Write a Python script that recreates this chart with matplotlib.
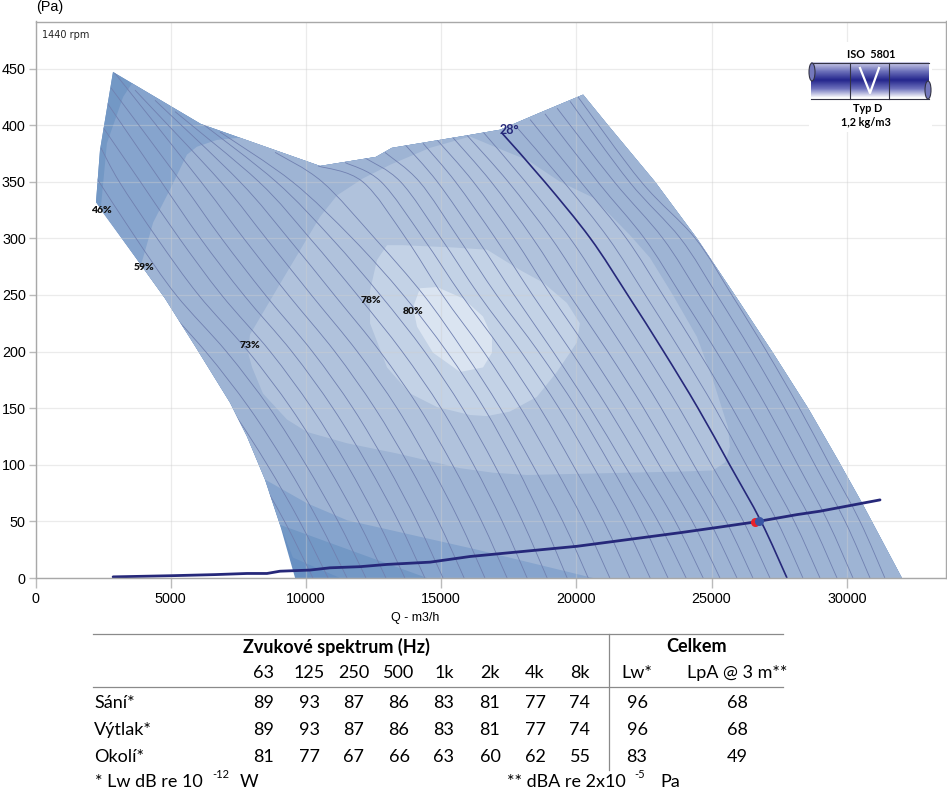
#!/usr/bin/env python
import numpy as np
import matplotlib
matplotlib.use("Agg")
from matplotlib import pyplot as plt
from matplotlib.colors import LinearSegmentedColormap
from matplotlib.patches import Ellipse, PathPatch, Polygon, Rectangle
from matplotlib.path import Path

nan = float("nan")

# envelope of the fan map (Q m3/h, P Pa)
top_corner = [(2866, 447)]
top_edge = [(6120, 401), (10520, 364), (12590, 372), (13180, 380), (15960, 391),
            (17180, 396), (18650, 411), (20250, 427)]
right_edge = [(21170, 400), (22910, 350), (24460, 300), (25860, 250), (27240, 200),
              (28570, 150), (29680, 104), (30570, 66), (32040, 0)]
lower_left_edge = [(9041, 47), (8487, 87), (7821, 125), (7192, 155), (5898, 205),
                   (4789, 247), (3827, 279)]
left_edge = [(2237, 332), (2385, 378)]

# efficiency bands
band_left_1 = [(2420, 328), (2640, 384), (3240, 425), (3570, 437)]
band_left_2 = [(3980, 283), (4350, 314), (4970, 343), (5600, 374), (5970, 381),
               (6710, 387), (7560, 389)]
band_bottom_0 = [(11260, 0), (9520, 18)]
band_bottom_1 = [(14480, 0), (10890, 31)]
band_bottom_2 = [(20620, 0), (16330, 25), (11520, 51), (10040, 66), (8487, 87)]
band_73 = [(7860, 199), (7930, 215), (9120, 263), (10520, 319), (11150, 338), (12110, 353),
           (13110, 365), (14590, 380), (16070, 390), (17070, 380), (18210, 369), (19400, 350),
           (20620, 336), (21980, 303), (22720, 283), (23570, 250), (24460, 213), (25050, 175),
           (25610, 133), (25680, 116), (25500, 102), (25050, 95), (23830, 94), (21870, 93),
           (18180, 91), (16920, 93), (15700, 97), (13370, 110), (11520, 119), (10040, 129),
           (9300, 140), (8410, 163), (8010, 186)]
band_78 = [(13000, 294), (12630, 281), (12370, 254), (12370, 225), (13000, 186), (13850, 163),
           (14850, 151), (16070, 144), (16700, 143), (17540, 147), (18540, 160), (19280, 182),
           (20020, 208), (20130, 225), (19650, 243), (18770, 261), (17920, 272), (16700, 290),
           (15440, 292), (13590, 294)]
band_80 = [(14220, 256), (13960, 239), (14110, 222), (14700, 199), (15700, 182), (16550, 186),
           (16880, 199), (16880, 213), (16550, 231), (15810, 247), (14850, 257)]

# blade angle curves, Q read at fixed pressures, then where each one starts on the envelope
curve_p = [0, 50, 100, 150, 200, 250, 300, 350]
curve_q_0 = [10260, 10820, 11520, 12220, 12960, 13660, 14400, 15070, 15850, 16620, 17440,
             18180, 18920, 19660, 20440, 21240, 21980, 22730, 23390, 24060, 24690, 25310,
             25940, 26530, 27160, 28380, 29010, 29640, 30230, 30860, 31410]
curve_q_50 = [9210, 9770, 10470, 11190, 11940, 12660, 13420, 14100, 14900, 15680, 16500,
              17260, 18010, 18770, 19500, 20280, 21010, 21750, 22410, 23020, 23660, 24290,
              24930, 25540, 26180, 27430, 28060, 28700, 29300, 29940, 30490]
curve_q_100 = [8000, 8570, 9270, 10000, 10770, 11520, 12280, 12990, 13800, 14590, 15420,
               16200, 16970, 17750, 18380, 19150, 19870, 20590, 21250, 21770, 22420, 23060,
               23710, 24340, 25000, 26280, 26920, 27560, 28190, 28820, 29370]
curve_q_150 = [6630, 7210, 7910, 8660, 9450, 10220, 11000, 11740, 12550, 13370, 14200,
               15000, 15790, 16590, 17190, 17940, 18660, 19360, 20010, 20510, 21170, 21820,
               22490, 23140, 23810, 25130, 25770, 26420, 27060, 27700, 28250]
curve_q_200 = [5000, 5590, 6290, 7060, 7870, 8680, 9480, 10240, 11070, 11900, 12740,
               13560, 14390, 15210, 15840, 16570, 17280, 17950, 18600, 19140, 19810, 20470,
               21160, 21830, 22510, 23870, 24520, 25180, 25840, 26490, 27040]
curve_q_250 = [3100, 3700, 4400, 5200, 6030, 6880, 7700, 8500, 9350, 10200, 11050,
               11900, 12750, 13600, 14350, 15050, 15750, 16400, 17050, 17700, 18380, 19050,
               19750, 20450, 21150, 22550, 23200, 23870, 24550, 25200, 25750]
curve_q_300 = [nan, nan, nan, 3720, 4500, 5320, 6100, 6880, 7700, 8530, 9350,
               10150, 10950, 11720, 12550, 13700, 14340, 15000, 15650, 16320, 17010, 17700,
               18390, 19080, 19770, 21190, 21850, 22520, 23200, 23850, 24400]
curve_q_350 = [nan, nan, nan, nan, 3100, 3880, 4650, 5380, 6120, 6850, 7560,
               8260, 8900, 9500, 10600, 12100, 12780, 13500, 14200, 14860, 15530, 16190,
               16850, 17480, 18120, 19530, 20160, 20790, 21400, 21960, 22400]
curve_top_q = [nan, nan, nan, 2270, 2420, 2500, 2640, 2790, 2900, 3680, 4420,
               5160, 6080, 6820, 8860, 10450, 11450, 12190, 12920, 13660, 14330, 14850,
               15400, 15960, 16550, 17730, 18290, 18840, 19290, 19770, 20060]
curve_top_p = [nan, nan, nan, 353, 380, 398, 420, 433, 447, 431, 422,
               412, 403, 394, 376, 364, 367, 371, 376, 383, 384, 387,
               390, 391, 394, 400, 405, 410, 415, 421, 425]

angle_q = [27790, 26830, 25670, 24500, 23230, 21900, 20520, 18830, 17250]
angle_p = [0, 50, 100, 150, 200, 250, 300, 350, 393]

system_q = [2870, 4970, 6640, 7820, 8560, 9040, 10150, 10890, 12000, 13000, 14590, 16070,
            20020, 23830, 25310, 26610, 28160, 29010, 31230]
system_p = [1, 2, 3, 4, 4, 6, 7, 9, 10, 12, 14, 19, 28, 40, 45, 49.5, 56, 59, 69]

duty_red = (26610, 49.5)
duty_blue = (26770, 50.5)

eff_labels = ["46%", "59%", "73%", "78%", "80%"]
eff_q = [2420, 4010, 7930, 12410, 13960]
eff_p = [325, 274, 205, 245, 235]

# sound table
freq_labels = ["63", "125", "250", "500", "1k", "2k", "4k", "8k"]
row_names = ["Sání*", "Výtlak*", "Okolí*"]
sani = [89, 93, 87, 86, 83, 81, 77, 74]
vytlak = [89, 93, 87, 86, 83, 81, 77, 74]
okoli = [81, 77, 67, 66, 63, 60, 62, 55]
lw_total = [96, 96, 83]
lpa_total = [68, 68, 49]

NAVY = "#26287a"
TABLE_FONT = "Lato"


def smooth_path(q, p):
    # Catmull-Rom through the points, as bezier segments
    pts = np.column_stack([q, p])
    verts = [pts[0]]
    codes = [Path.MOVETO]
    for i in range(len(pts) - 1):
        before = pts[max(i - 1, 0)]
        after = pts[min(i + 2, len(pts) - 1)]
        verts += [pts[i] + (pts[i + 1] - before) / 6, pts[i + 1] - (after - pts[i]) / 6, pts[i + 1]]
        codes += [Path.CURVE4] * 3
    return Path(verts, codes)


def main():
    plt.rcParams["font.family"] = ["Liberation Sans", "DejaVu Sans"]
    fig = plt.figure(figsize=(9.47, 7.96), dpi=100)
    ax = fig.add_axes([35.5 / 947, 1 - 578 / 796, (946 - 35.5) / 947, (578 - 21.5) / 796])
    ax.set_xlim(0, 33670)
    ax.set_ylim(0, 491.6)

    outer = top_corner + top_edge + right_edge + [(9600, 0)] + lower_left_edge + left_edge
    level1 = top_corner + top_edge + right_edge + band_bottom_0 + lower_left_edge + left_edge
    level2 = band_left_1 + top_edge + right_edge + band_bottom_1 + lower_left_edge + [(2420, 325)]
    level3 = band_left_2 + top_edge[1:] + right_edge + band_bottom_2 + lower_left_edge[2:] + [(3900, 277)]
    levels = [(outer, "#6890c2"), (level1, "#7398c5"), (level2, "#86a4cd"), (level3, "#9eb4d4"),
              (band_73, "#b0c2dc"), (band_78, "#c3d2e6"), (band_80, "#dae4f1")]
    for i, (pts, colour) in enumerate(levels):
        ax.add_patch(Polygon(pts, closed=True, facecolor=colour, edgecolor="none", zorder=1 + i * 0.1))

    clip = Polygon(outer, closed=True, transform=ax.transData)

    rows = [curve_q_0, curve_q_50, curve_q_100, curve_q_150, curve_q_200, curve_q_250,
            curve_q_300, curve_q_350]
    for i in range(len(curve_q_0)):
        q = [row[i] for row in rows]
        p = list(curve_p)
        q.append(curve_top_q[i])
        p.append(curve_top_p[i])
        keep = np.isfinite(q)
        patch = PathPatch(smooth_path(np.array(q)[keep], np.array(p)[keep]), fill=False,
                          edgecolor="#7080b0", linewidth=0.6, zorder=3)
        ax.add_patch(patch)
        patch.set_clip_path(clip)

    ax.add_patch(PathPatch(smooth_path(angle_q, angle_p), fill=False, edgecolor=NAVY,
                           linewidth=1.2, zorder=4))
    ax.plot(system_q, system_p, color=NAVY, linewidth=2, zorder=5, solid_capstyle="round")
    ax.plot(*duty_red, "o", color="#e8212b", markersize=6.5, markeredgewidth=0, zorder=6)
    ax.plot(*duty_blue, "o", color="#3a55a4", markersize=6.5, markeredgewidth=0, zorder=7)

    for label, q, p in zip(eff_labels, eff_q, eff_p):
        ax.text(q, p, label, fontsize=7.5, fontweight="heavy", color="#111111",
                family="Lato", ha="center", va="center", zorder=8)
    ax.text(17540, 396, "28°", fontsize=9, fontweight="bold", color=NAVY, family="Lato",
            ha="center", va="center", zorder=8)

    ax.set_xticks(range(0, 35000, 5000))
    ax.set_yticks(range(0, 500, 50))
    ax.grid(True, color="#cfcfcf", alpha=0.4, linewidth=0.9)
    ax.set_axisbelow(False)
    for line in ax.get_xgridlines() + ax.get_ygridlines():
        line.set_zorder(2)
    ax.tick_params(axis="x", length=7, width=1, color="#bbbbbb", labelsize=10.4, pad=3)
    ax.tick_params(axis="y", length=5, width=1, color="#bbbbbb", labelsize=10.4, pad=2)
    for side in ax.spines:
        ax.spines[side].set_color("#a8a8a8")
        ax.spines[side].set_linewidth(1)
        ax.spines[side].set_zorder(9)

    # everything outside the plot is placed in picture pixels
    ov = fig.add_axes([0, 0, 1, 1], facecolor="none")
    ov.set_xlim(0, 947)
    ov.set_ylim(796, 0)
    ov.axis("off")

    ov.text(36, 7.5, "(Pa)", fontsize=10.4, ha="left", va="center")
    ov.text(415, 618, "Q - m3/h", fontsize=9, ha="center", va="center")
    ov.text(42, 35, "1440 rpm", fontsize=7, family="DejaVu Sans", color="#222222", va="center")

    # ISO 5801 pictogram
    ov.add_patch(Rectangle((809, 42), 123, 90, facecolor="white", edgecolor="none", zorder=1))
    pipe = LinearSegmentedColormap.from_list(
        "pipe", ["#cfcfea", "#6e72bb", "#23258c", "#7074be", "#ffffff"])
    ov.imshow(np.linspace(0, 1, 64).reshape(-1, 1), cmap=pipe, aspect="auto",
              extent=(811, 929, 98.5, 62.5), zorder=2)
    ov.set_xlim(0, 947)
    ov.set_ylim(796, 0)
    ov.plot([811, 929], [62.5, 62.5], color="#333344", lw=0.8, zorder=3)
    ov.plot([811, 929], [98.5, 98.5], color="#333344", lw=0.8, zorder=3)
    ov.plot([850, 850], [62.5, 98.5], color="#333344", lw=0.8, zorder=3)
    ov.plot([889, 889], [62.5, 98.5], color="#333344", lw=0.8, zorder=3)
    ov.add_patch(Ellipse((812, 72), 6, 18, facecolor="#7478bc", edgecolor="#333344", lw=0.8, zorder=3))
    ov.add_patch(Ellipse((928, 90), 6, 18, facecolor="#7478bc", edgecolor="#333344", lw=0.8, zorder=3))
    ov.plot([860, 870, 879], [68, 93, 68], color="white", lw=1.6, zorder=4)
    ov.text(871, 54, "ISO  5801", fontsize=7.8, fontweight="bold", family="Lato",
            ha="center", va="center", zorder=4)
    ov.text(868, 109, "Typ D", fontsize=7.8, fontweight="bold", family="Lato",
            ha="center", va="center", zorder=4)
    ov.text(866, 122, "1,2 kg/m3", fontsize=7.8, fontweight="bold", family="Lato",
            ha="center", va="center", zorder=4)

    # table rules
    ov.plot([93, 783], [634, 634], color="#8a8a8a", lw=0.9)
    ov.plot([93, 783], [687, 687], color="#8a8a8a", lw=0.9)
    ov.plot([609, 609], [634, 770], color="#8a8a8a", lw=0.9)

    col_x = [264, 309, 354, 399, 444, 490, 535, 580]
    lw_x, lpa_x = 637, 737
    row_y = [703, 730, 757]
    size = 13

    ov.text(336, 647, "Zvukové spektrum (Hz)", fontsize=size, fontweight="bold", family=TABLE_FONT,
            ha="center", va="center")
    ov.text(697, 647, "Celkem", fontsize=size, fontweight="bold", family=TABLE_FONT,
            ha="center", va="center")
    for x, label in zip(col_x, freq_labels):
        ov.text(x, 673, label, fontsize=size, family=TABLE_FONT, ha="center", va="center")
    ov.text(lw_x, 673, "Lw*", fontsize=size, family=TABLE_FONT, ha="center", va="center")
    ov.text(lpa_x, 673, "LpA @ 3 m**", fontsize=size, family=TABLE_FONT, ha="center", va="center")

    for i, (name, values) in enumerate(zip(row_names, [sani, vytlak, okoli])):
        ov.text(94, row_y[i], name, fontsize=size, family=TABLE_FONT, ha="left", va="center")
        for x, value in zip(col_x, values):
            ov.text(x, row_y[i], str(value), fontsize=size, family=TABLE_FONT, ha="center", va="center")
        ov.text(lw_x, row_y[i], str(lw_total[i]), fontsize=size, family=TABLE_FONT, ha="center", va="center")
        ov.text(lpa_x, row_y[i], str(lpa_total[i]), fontsize=size, family=TABLE_FONT, ha="center", va="center")

    ov.text(95, 782, "* Lw dB re 10", fontsize=size, family=TABLE_FONT, va="center")
    ov.text(212, 775, "-12", fontsize=8, family=TABLE_FONT, va="center")
    ov.text(240, 782, "W", fontsize=size, family=TABLE_FONT, va="center")
    ov.text(507, 782, "** dBA re 2x10", fontsize=size, family=TABLE_FONT, va="center")
    ov.text(634, 775, "-5", fontsize=8, family=TABLE_FONT, va="center")
    ov.text(660, 782, "Pa", fontsize=size, family=TABLE_FONT, va="center")

    fig.savefig("out.png", dpi=100)


if __name__ == "__main__":
    main()
